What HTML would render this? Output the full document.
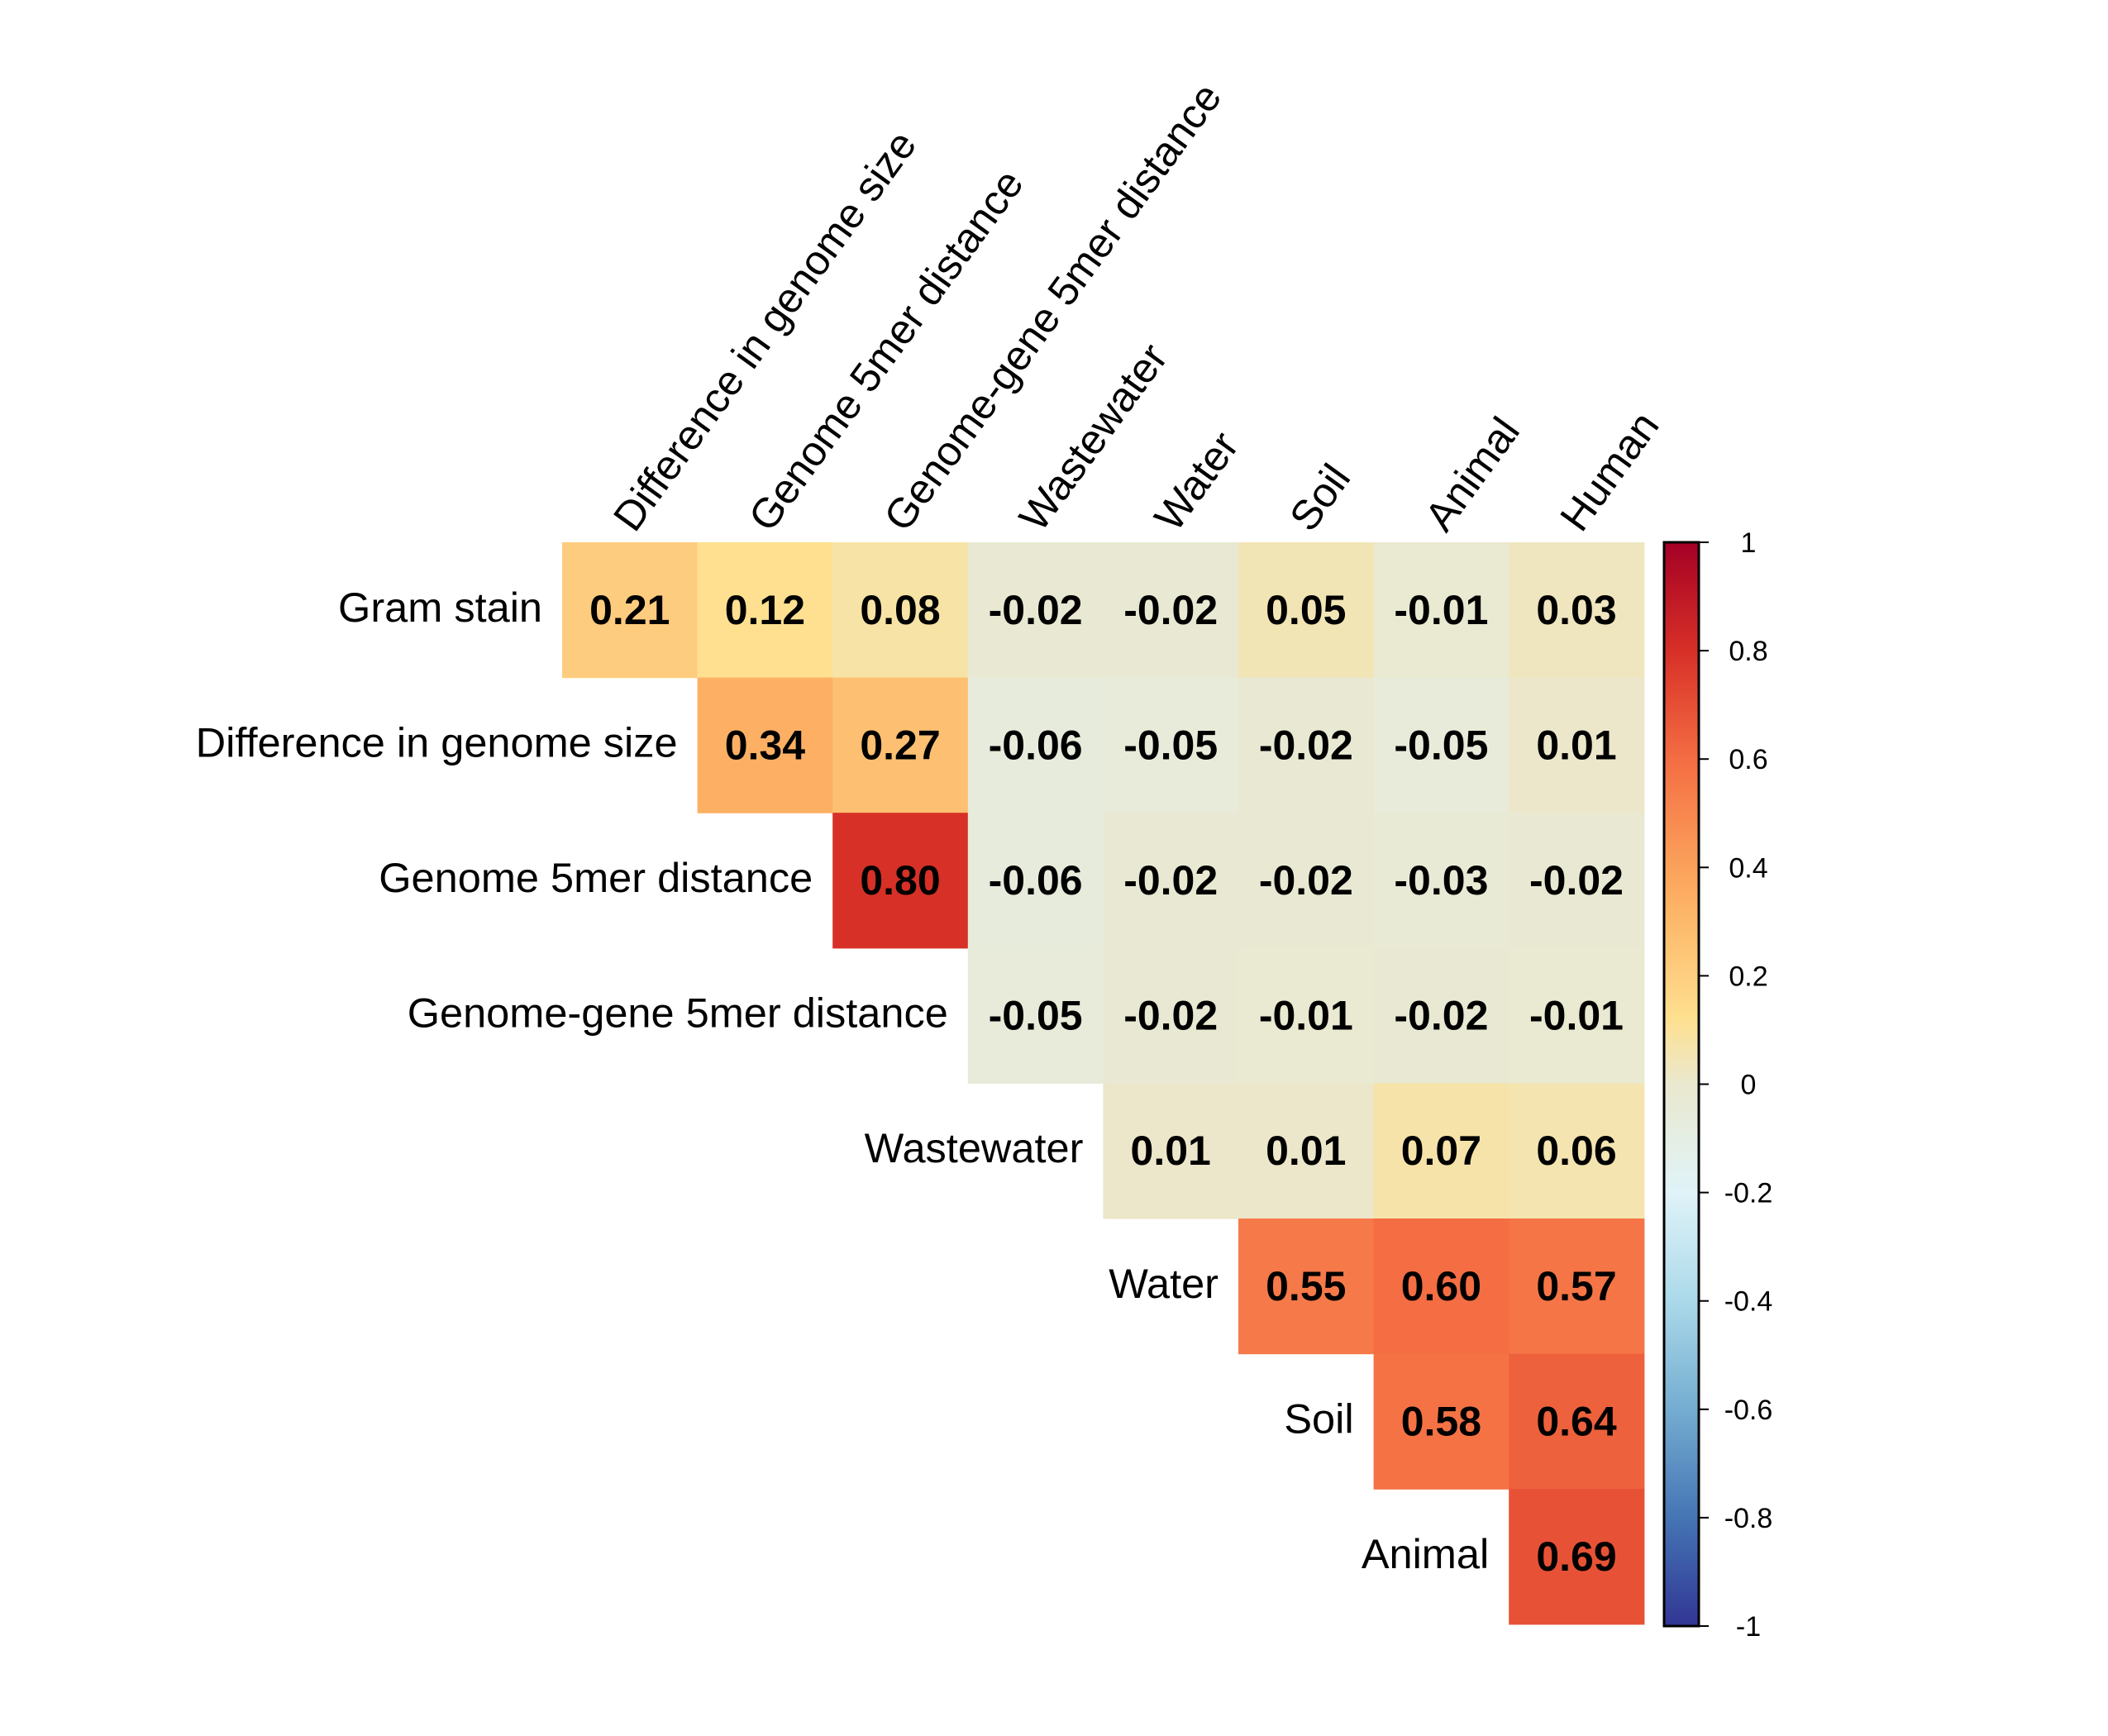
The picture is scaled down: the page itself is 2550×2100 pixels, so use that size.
<!DOCTYPE html>
<html><head><meta charset="utf-8"><style>
html,body{margin:0;padding:0;background:#fff;}
svg{display:block;font-family:"Liberation Sans",Arial,sans-serif;}
</style></head><body>
<svg id="chart" width="2550" height="2100" viewBox="0 0 2550 2100" xmlns="http://www.w3.org/2000/svg">
<defs><linearGradient id="cbgrad" x1="0" y1="1" x2="0" y2="0"></linearGradient></defs>
<rect x="0" y="0" width="2550" height="2100" fill="#fff"/>
<g id="cells"></g>
<g id="rowlabels"></g>
<g id="collabels"></g>
<g id="colorbar"></g>
</svg>
<script>
const rowLabels = ["Gram stain","Difference in genome size","Genome 5mer distance","Genome-gene 5mer distance","Wastewater","Water","Soil","Animal"];
const colLabels = ["Difference in genome size","Genome 5mer distance","Genome-gene 5mer distance","Wastewater","Water","Soil","Animal","Human"];
const row0 = [0.21,0.12,0.08,-0.02,-0.02,0.05,-0.01,0.03];
const row1 = [0.34,0.27,-0.06,-0.05,-0.02,-0.05,0.01];
const row2 = [0.80,-0.06,-0.02,-0.02,-0.03,-0.02];
const row3 = [-0.05,-0.02,-0.01,-0.02,-0.01];
const row4 = [0.01,0.01,0.07,0.06];
const row5 = [0.55,0.60,0.57];
const row6 = [0.58,0.64];
const row7 = [0.69];
const rows = [row0,row1,row2,row3,row4,row5,row6,row7];
const cbTicks = [1,0.8,0.6,0.4,0.2,0,-0.2,-0.4,-0.6,-0.8,-1];
const cbTickLabels = ["1","0.8","0.6","0.4","0.2","0","-0.2","-0.4","-0.6","-0.8","-1"];

const NS="http://www.w3.org/2000/svg";
const gx0=680, gy0=656, cs=163.6;
const colX = j => gx0 + j*cs;
const rowY = i => gy0 + i*cs;
const stops=[[-1,[49,54,149]],[-0.8,[69,117,180]],[-0.6,[116,173,209]],[-0.4,[171,217,233]],[-0.2,[224,243,248]],[0,[234,232,207]],[0.12,[254,224,144]],[0.35,[253,174,97]],[0.6,[244,109,67]],[0.8,[215,48,39]],[1,[165,0,38]]];
function color(v){
  for(let k=0;k<stops.length-1;k++){
    const a=stops[k],b=stops[k+1];
    if(v>=a[0]&&v<=b[0]){const t=(v-a[0])/(b[0]-a[0]);
      const c=a[1].map((x,i)=>Math.round(x+(b[1][i]-x)*t));return `rgb(${c[0]},${c[1]},${c[2]})`;}
  }
  return v<0?'rgb(49,54,149)':'rgb(165,0,38)';
}
function mk(tag,attrs,parent){const e=document.createElementNS(NS,tag);for(const k in attrs)e.setAttribute(k,attrs[k]);parent.appendChild(e);return e;}

const cells=document.getElementById('cells');
rows.forEach((vals,i)=>{
  vals.forEach((v,k)=>{
    const j=i+k;
    const r=mk('rect',{x:colX(j),y:rowY(i),width:cs+0.6,height:cs+0.6,fill:color(v)},cells);
    
    
    const t=mk('text',{x:colX(j)+cs/2,y:rowY(i)+cs/2+17,'text-anchor':'middle','font-size':50,'font-weight':'bold',fill:'#000'},cells);
    t.textContent=v.toFixed(2);
    
    
  });
});
const rl=document.getElementById('rowlabels');
rowLabels.forEach((s,i)=>{
  const t=mk('text',{x:colX(i)-24,y:rowY(i)+cs/2+14,'text-anchor':'end','font-size':50.5,fill:'#000'},rl);
  t.textContent=s;
  
  
});
const cl=document.getElementById('collabels');
colLabels.forEach((s,j)=>{
  const x=colX(j)+cs/2+6, y=gy0-10;
  const t=mk('text',{x:x,y:y,'font-size':50.5,fill:'#000',transform:`rotate(-54 ${x} ${y})`},cl);
  t.textContent=s;
  
  
});
const grad=document.getElementById('cbgrad');
for(let k=0;k<=100;k++){const v=-1+k*0.02;mk('stop',{offset:(k)+'%','stop-color':color(v)},grad);}
const cb=document.getElementById('colorbar');
const cbx=2013,cbw=42,cbt=656,cbb=1967;
const cbY=v=>cbb-(v+1)/2*(cbb-cbt);
const bar=mk('rect',{x:cbx,y:cbt,width:cbw,height:cbb-cbt,fill:'url(#cbgrad)',stroke:'#000','stroke-width':3},cb);


cbTicks.forEach((v,k)=>{
  const y=cbY(v);
  const l=mk('line',{x1:cbx+cbw,x2:cbx+cbw+12,y1:y,y2:y,stroke:'#000','stroke-width':2},cb);
  
  
  const t=mk('text',{x:2115,y:y+12,'text-anchor':'middle','font-size':34,fill:'#000'},cb);
  t.textContent=cbTickLabels[k];
  
  
});
</script>
</body></html>
